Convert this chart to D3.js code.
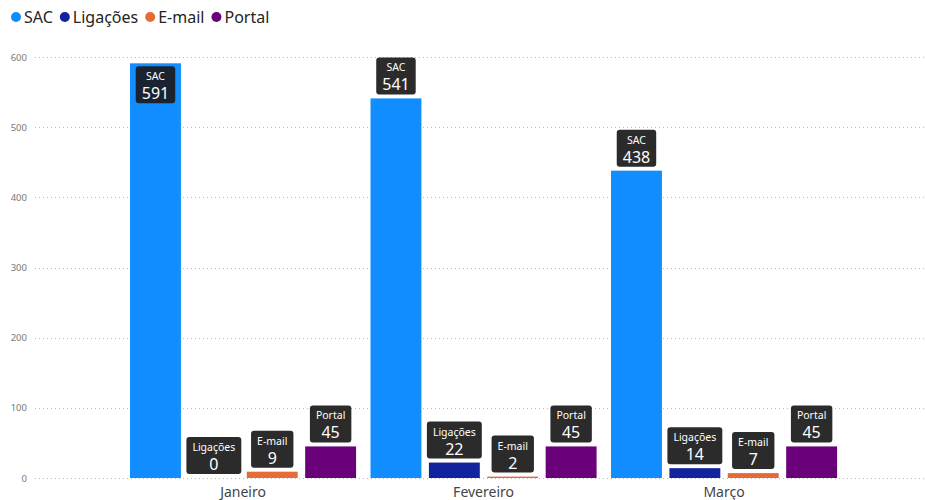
<!DOCTYPE html>
<html>
<head>
<meta charset="utf-8">
<script src="https://cdn.jsdelivr.net/npm/d3@7"></script>
<style>
  body { margin: 0; background: #fff; font-family: "Noto Sans", "Open Sans", sans-serif; }
</style>
</head>
<body>
<div id="chart"></div>
<script>
// Data
var months = ['Janeiro', 'Fevereiro', 'Março'];
var channels = ['SAC', 'Ligações', 'E-mail', 'Portal'];
var sac = [591, 541, 438];
var ligacoes = [0, 22, 14];
var email = [9, 2, 7];
var portal = [45, 45, 45];
var yTicks = [0, 100, 200, 300, 400, 500, 600];

var colors = ['#118DFF', '#12239E', '#E66C37', '#6B007B'];
var seriesValues = [sac, ligacoes, email, portal];

var width = 925,
  height = 500,
  margin = {top: 57, right: 0, bottom: 22, left: 35};

var svg = d3.select('#chart').append('svg')
  .attr('width', width)
  .attr('height', height);

// Scales
var y = d3.scaleLinear()
  .domain([0, 600])
  .range([478, margin.top]);

var x0 = d3.scaleBand()
  .domain(months)
  .range([122.8, 844.3])
  .paddingInner(0.06)
  .paddingOuter(0.03);

var x1 = d3.scaleBand()
  .domain(channels)
  .range([0, x0.bandwidth()])
  .paddingInner(0.128);

var color = d3.scaleOrdinal().domain(channels).range(colors);

// Legend
var legend = svg.append('g').attr('transform', 'translate(10,17)');
var lx = 0;
channels.forEach(function (c) {
  var g = legend.append('g').attr('transform', 'translate(' + lx + ',0)');
  g.append('circle').attr('cx', 6).attr('cy', 0).attr('r', 5).attr('fill', color(c));
  var t = g.append('text')
    .attr('x', 14)
    .attr('y', 5.5)
    .attr('font-size', 16)
    .attr('fill', '#252423')
    .text(c);
  lx += 14 + t.node().getComputedTextLength() + 6;
});

// Gridlines and y axis labels
var yAxis = svg.append('g');
yAxis.selectAll('line')
  .data(yTicks)
  .enter()
  .append('line')
  .attr('x1', margin.left)
  .attr('x2', width)
  .attr('y1', function (d) { return Math.round(y(d)) + 0.5; })
  .attr('y2', function (d) { return Math.round(y(d)) + 0.5; })
  .attr('stroke', '#b8b8b8')
  .attr('stroke-width', 1)
  .attr('stroke-dasharray', '1,3');

yAxis.selectAll('text')
  .data(yTicks)
  .enter()
  .append('text')
  .attr('x', 27)
  .attr('y', function (d) { return y(d) + 3.5; })
  .attr('text-anchor', 'end')
  .attr('font-size', 9.5)
  .attr('fill', '#777')
  .text(function (d) { return d; });

// Category labels
svg.append('g').selectAll('text')
  .data(months)
  .enter()
  .append('text')
  .attr('x', function (d) { return x0(d) + x0.bandwidth() / 2; })
  .attr('y', 497)
  .attr('text-anchor', 'middle')
  .attr('font-size', 14)
  .attr('fill', '#444')
  .text(function (d) { return d; });

// Build rows for bars
var rows = [];
months.forEach(function (m, i) {
  channels.forEach(function (c, j) {
    rows.push({month: m, channel: c, value: seriesValues[j][i]});
  });
});

// Bars
svg.append('g').selectAll('rect')
  .data(rows)
  .enter()
  .append('rect')
  .attr('x', function (d) { return x0(d.month) + x1(d.channel); })
  .attr('y', function (d) { return y(d.value); })
  .attr('width', x1.bandwidth())
  .attr('height', function (d) { return y(0) - y(d.value); })
  .attr('fill', function (d) { return color(d.channel); });

// Data labels (dark boxes)
var labels = svg.append('g');
rows.forEach(function (d) {
  var cx = x0(d.month) + x1(d.channel) + x1.bandwidth() / 2;
  var g = labels.append('g');
  var name = g.append('text')
    .attr('text-anchor', 'middle')
    .attr('font-size', 10.5)
    .attr('fill', '#fff')
    .text(d.channel);
  var val = g.append('text')
    .attr('text-anchor', 'middle')
    .attr('font-size', 16)
    .attr('fill', '#fff')
    .text(d.value);
  var w = Math.max(name.node().getComputedTextLength(), val.node().getComputedTextLength()) + 12;
  var h = 37;
  var top = y(d.value) - 4 - h;
  if (top < margin.top) top = y(d.value) + 3;
  g.insert('rect', 'text')
    .attr('x', cx - w / 2)
    .attr('y', top)
    .attr('width', w)
    .attr('height', h)
    .attr('rx', 3)
    .attr('fill', top > y(d.value) ? '#1b2330' : '#2b2b2b');
  name.attr('x', cx).attr('y', top + 14);
  val.attr('x', cx).attr('y', top + 33);
});
</script>
</body>
</html>
